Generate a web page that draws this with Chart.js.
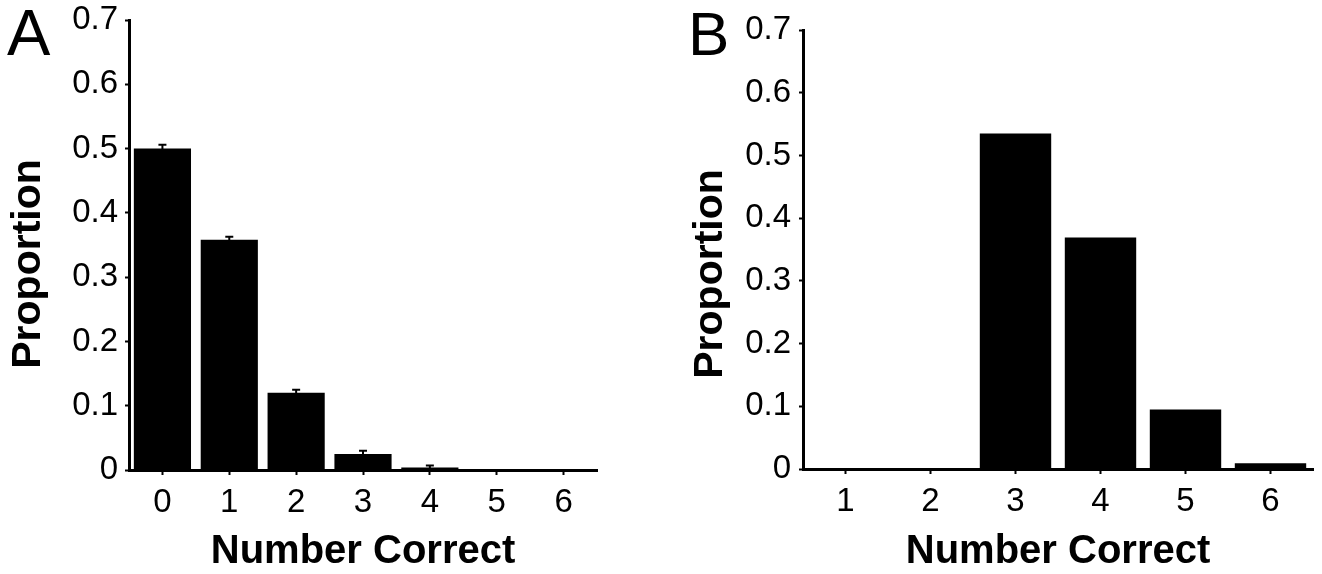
<!DOCTYPE html>
<html>
<head>
<meta charset="utf-8">
<script src="https://cdn.jsdelivr.net/npm/chart.js@4.4.1/dist/chart.umd.min.js"></script>
<style>
  html, body { margin: 0; padding: 0; background: #fff; }
  #wrap { position: relative; width: 1322px; height: 574px; }
  canvas { position: absolute; top: 0; }
  #chartA { left: 0; }
  #chartB { left: 661px; }
</style>
</head>
<body>
<div id="wrap">
  <canvas id="chartA" width="661" height="574"></canvas>
  <canvas id="chartB" width="661" height="574"></canvas>
</div>
<script>
// tick labels shared by both panels
const yTicks = ['0', '0.1', '0.2', '0.3', '0.4', '0.5', '0.6', '0.7'];

// panel A
const catsA = ['0', '1', '2', '3', '4', '5', '6'];
const propA = [0.500, 0.358, 0.120, 0.025, 0.004, 0.0015, 0.0008];
const errA = [0.006, 0.005, 0.005, 0.005, 0.003, 0, 0];

// panel B
const catsB = ['1', '2', '3', '4', '5', '6'];
const propB = [0, 0, 0.535, 0.369, 0.095, 0.009];

const FONT = '"Liberation Sans", Arial, Helvetica, sans-serif';
Chart.defaults.font.family = FONT;
Chart.defaults.color = '#000';

// small error bars above the bars (only the top part shows on black bars)
const errorBars = {
    id: 'errorBars',
    afterDatasetsDraw(chart) {
        const ds = chart.data.datasets[0];
        if (!ds.errors) return;
        const meta = chart.getDatasetMeta(0);
        const y = chart.scales.y;
        const ctx = chart.ctx;
        ctx.save();
        ctx.strokeStyle = '#000';
        ctx.lineWidth = 2;
        meta.data.forEach(function (bar, i) {
            const v = ds.data[i], e = ds.errors[i];
            if (!e) return;
            const top = y.getPixelForValue(v + e);
            const bot = y.getPixelForValue(Math.max(v - e, 0));
            ctx.beginPath();
            ctx.moveTo(bar.x, bot);
            ctx.lineTo(bar.x, top);
            ctx.moveTo(bar.x - 4, top);
            ctx.lineTo(bar.x + 4, top);
            ctx.stroke();
        });
        ctx.restore();
    }
};

// panel letter and the rotated y axis title
const panelText = {
    id: 'panelText',
    afterDraw(chart, args, opts) {
        const ctx = chart.ctx;
        ctx.save();
        ctx.fillStyle = '#000';
        ctx.textBaseline = 'alphabetic';
        ctx.textAlign = 'left';
        ctx.font = opts.letterSize + 'px ' + FONT;
        ctx.fillText(opts.letter, opts.letterX, opts.letterY);
        ctx.translate(opts.titleX, opts.titleY);
        ctx.rotate(-Math.PI / 2);
        ctx.textAlign = 'center';
        ctx.font = 'bold 41px ' + FONT;
        ctx.fillText(opts.title, 0, 0);
        ctx.restore();
    }
};

function makeChart(id, cats, values, errs, o) {
    return new Chart(document.getElementById(id), {
        type: 'bar',
        data: {
            labels: cats,
            datasets: [{
                data: values,
                errors: errs,
                backgroundColor: '#000',
                borderWidth: 0,
                barPercentage: o.barPct,
                categoryPercentage: 1
            }]
        },
        options: {
            responsive: false,
            animation: false,
            events: [],
            layout: { padding: { left: 0, right: o.padRight, top: o.padTop, bottom: 0 } },
            scales: {
                x: {
                    offset: true,
                    grid: { display: true, drawOnChartArea: false, drawTicks: true, tickLength: 5, tickWidth: 2, tickColor: '#000', offset: false },
                    border: { display: true, color: '#000', width: 3 },
                    ticks: { font: { size: 33 }, padding: 8, color: '#000', maxRotation: 0 },
                    title: { display: true, text: 'Number Correct', font: { size: 40, weight: 'bold' }, color: '#000', padding: { top: 0, bottom: -2 } },
                    afterFit: function (s) { s.height = o.xHeight; s.paddingLeft = 0; s.paddingRight = 0; }
                },
                y: {
                    min: 0,
                    max: 0.7,
                    grid: { display: true, drawOnChartArea: false, drawTicks: true, tickLength: 4, tickWidth: 2, tickColor: '#000' },
                    border: { display: true, color: '#000', width: 3 },
                    ticks: {
                        stepSize: 0.1,
                        font: { size: 33 },
                        padding: o.yPad,
                        color: '#000',
                        callback: function (v, i) { return yTicks[i]; }
                    },
                    afterFit: function (s) { s.width = o.yWidth; s.paddingTop = 0; s.paddingBottom = 0; }
                }
            },
            plugins: {
                legend: { display: false },
                tooltip: { enabled: false },
                panelText: o.text
            }
        },
        plugins: [errorBars, panelText]
    });
}

makeChart('chartA', catsA, propA, errA, {
    barPct: 0.855, padRight: 64, padTop: 20, xHeight: 104, yWidth: 129, yPad: 7,
    text: { letter: 'A', letterSize: 65, letterX: 7, letterY: 55, title: 'Proportion', titleX: 40, titleY: 264 }
});

makeChart('chartB', catsB, propB, null, {
    barPct: 0.84, padRight: 9, padTop: 30, xHeight: 105, yWidth: 142, yPad: 8,
    text: { letter: 'B', letterSize: 62, letterX: 27, letterY: 55, title: 'Proportion', titleX: 61, titleY: 274 }
});
</script>
</body>
</html>
